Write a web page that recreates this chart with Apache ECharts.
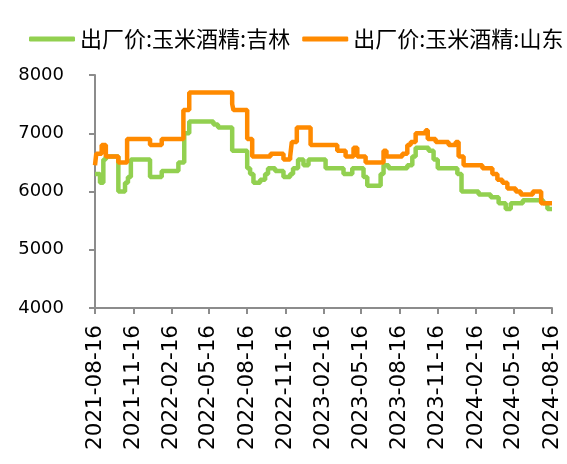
<!DOCTYPE html>
<html>
<head>
<meta charset="utf-8">
<script src="https://cdn.jsdelivr.net/npm/echarts@6/dist/echarts.min.js"></script>
<style>
	html, body { margin: 0; padding: 0; background: #fff; }
	#main { width: 567px; height: 464px; }
</style>
</head>
<body>
<div id="main"></div>
<script>
// 出厂价:玉米酒精:吉林 (每次调价的日期和价格)
var jlDates = ['2021-08-16','2021-08-28','2021-09-05','2021-09-11','2021-10-11','2021-10-27','2021-11-03','2021-11-10',
	'2021-12-26','2022-01-23','2022-03-04','2022-03-18','2022-03-30','2022-05-27','2022-06-07','2022-07-11',
	'2022-08-16','2022-08-23','2022-08-31','2022-09-16','2022-09-28','2022-10-05','2022-10-22','2022-11-11',
	'2022-11-27','2022-12-04','2022-12-16','2022-12-29','2023-01-10','2023-02-20','2023-04-04','2023-04-25',
	'2023-05-22','2023-05-31','2023-07-02','2023-07-09','2023-07-21','2023-09-04','2023-09-16','2023-09-24',
	'2023-10-25','2023-11-06','2023-11-16','2024-01-02','2024-01-12','2024-02-22','2024-03-22','2024-04-10',
	'2024-04-27','2024-05-09','2024-06-07','2024-07-26','2024-08-05','2024-08-16'];
var jlValues = [6300,6150,6550,6600,6000,6150,6250,6550,
	6250,6350,6500,7000,7200,7150,7100,6700,
	6400,6300,6150,6200,6300,6400,6350,6250,
	6300,6400,6550,6450,6550,6400,6300,6400,
	6250,6100,6300,6450,6400,6450,6600,6750,
	6700,6550,6400,6300,6000,5950,5900,5800,
	5700,5800,5850,5800,5700,5700];

// 出厂价:玉米酒精:山东
var sdDates = ['2021-08-16','2021-08-19','2021-09-01','2021-09-11','2021-10-11','2021-11-01','2021-12-26','2022-01-23',
	'2022-03-16','2022-03-30','2022-07-11','2022-07-14','2022-08-16','2022-08-28','2022-10-11','2022-11-11',
	'2022-11-27','2022-12-01','2022-12-13','2023-01-15','2023-03-20','2023-04-09','2023-04-28','2023-05-07',
	'2023-05-27','2023-07-09','2023-07-16','2023-08-23','2023-09-04','2023-09-12','2023-09-24','2023-10-18',
	'2023-10-23','2023-11-11','2023-12-12','2023-12-29','2024-01-05','2024-01-17','2024-03-02','2024-03-26',
	'2024-04-07','2024-04-19','2024-05-01','2024-05-21','2024-06-02','2024-07-01','2024-07-21','2024-08-16'];
var sdValues = [6450,6650,6800,6600,6500,6900,6800,6900,
	7400,7700,7500,7400,6900,6600,6650,6550,
	6600,6850,7100,6800,6700,6600,6750,6600,
	6500,6700,6600,6650,6800,6850,7000,7050,
	6900,6850,6800,6850,6600,6450,6400,6300,
	6200,6150,6050,6000,5950,6000,5800,5800];

// x轴刻度
var tickDates = ['2021-08-16','2021-11-16','2022-02-16','2022-05-16','2022-08-16','2022-11-16','2023-02-16',
	'2023-05-16','2023-08-16','2023-11-16','2024-02-16','2024-05-16','2024-08-16'];

function toTime(s){
	var p = s.split('-');
	return new Date(+p[0], +p[1] - 1, +p[2]).getTime();
}
function pad(n){ return n < 10 ? '0' + n : '' + n; }
function pairs(dates, values){
	var arr = [];
	for (var i = 0; i < dates.length; i++) {
		arr.push([toTime(dates[i]), values[i]]);
	}
	return arr;
}

var tickTimes = tickDates.map(toTime);
var myChart = echarts.init(document.getElementById('main'));
var option = {
	animation: false,
	legend: {
		top: 23,
		left: 24,
		width: 560,
		icon: 'roundRect',
		itemWidth: 46,
		itemHeight: 5,
		itemGap: 12,
		textStyle: { fontFamily: 'Noto Sans CJK SC', fontSize: 22, color: '#000' },
		data: ['出厂价:玉米酒精:吉林', '出厂价:玉米酒精:山东']
	},
	grid: { left: 95, right: 15, top: 75, bottom: 156 },
	xAxis: {
		type: 'value',
		min: toTime('2021-08-16'),
		max: toTime('2024-08-16'),
		scale: true,
		splitLine: { show: false },
		axisLine: { lineStyle: { color: '#8c8c8c', width: 2 } },
		axisTick: { show: true, length: 6, customValues: tickTimes, lineStyle: { color: '#8c8c8c', width: 2 } },
		axisLabel: {
			customValues: tickTimes,
			rotate: 90,
			margin: 17,
			color: '#000',
			fontFamily: 'DejaVu Sans',
			fontSize: 21.5,
			hideOverlap: false,
			formatter: function (v) {
				var d = new Date(v);
				return d.getFullYear() + '-' + pad(d.getMonth() + 1) + '-' + pad(d.getDate());
			}
		}
	},
	yAxis: {
		type: 'value',
		min: 4000,
		max: 8000,
		interval: 1000,
		splitLine: { show: false },
		axisLine: { show: true, lineStyle: { color: '#8c8c8c', width: 2 } },
		axisTick: { show: true, length: 6, lineStyle: { color: '#8c8c8c', width: 2 } },
		axisLabel: {
			color: '#000', fontFamily: 'DejaVu Sans', fontSize: 18, margin: 31,
			formatter: function (v) { return String(v); }
		}
	},
	series: [{
		name: '出厂价:玉米酒精:吉林',
		type: 'line',
		step: 'end',
		symbol: 'none',
		data: pairs(jlDates, jlValues),
		itemStyle: { color: '#92D050' },
		lineStyle: { color: '#92D050', width: 4.5 }
	}, {
		name: '出厂价:玉米酒精:山东',
		type: 'line',
		step: 'end',
		symbol: 'none',
		data: pairs(sdDates, sdValues),
		itemStyle: { color: '#FF8A00' },
		lineStyle: { color: '#FF8A00', width: 4.5 }
	}]
};
if (option && typeof option === "object") {
	myChart.setOption(option, true);
}
</script>
</body>
</html>
